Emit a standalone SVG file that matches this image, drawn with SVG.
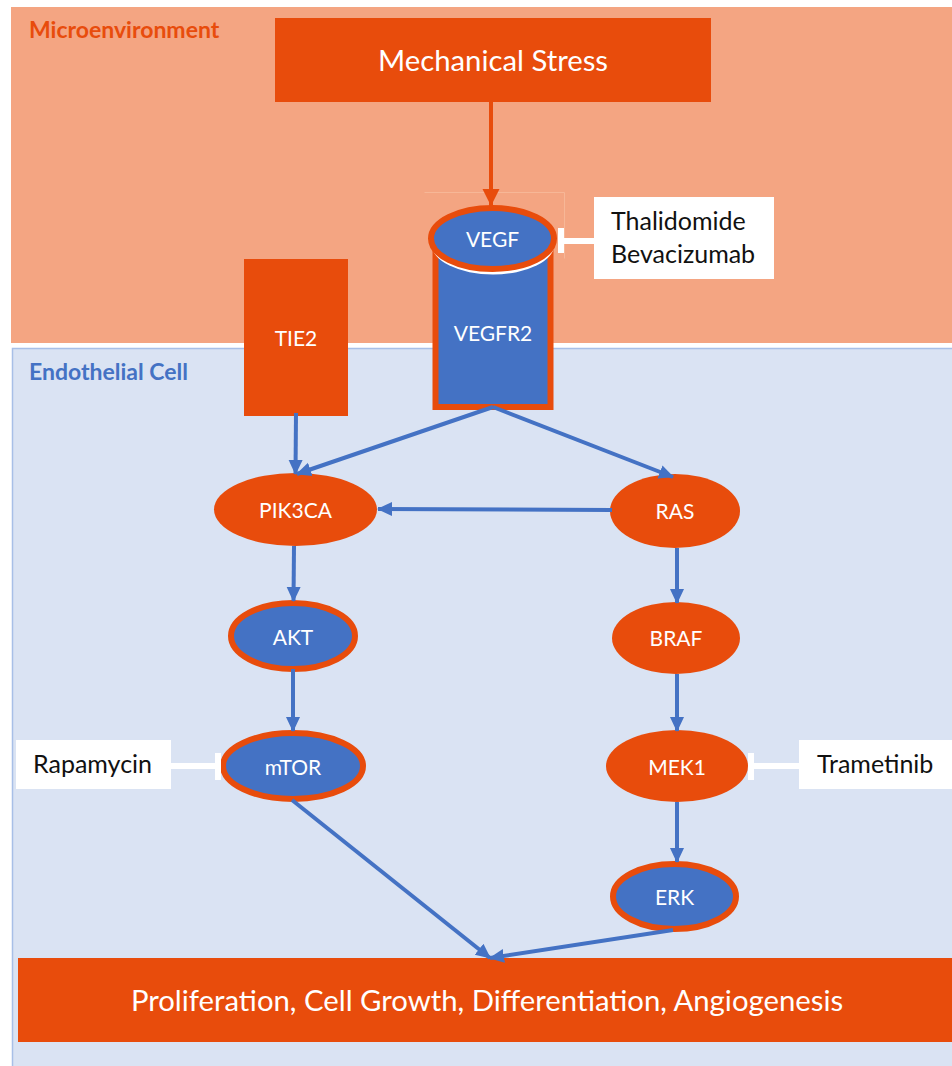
<svg xmlns="http://www.w3.org/2000/svg" width="952" height="1066" viewBox="0 0 952 1066">
  <defs>
    <style>
      .lbl { font-family: Lato, "Liberation Sans", sans-serif; fill: #ffffff; text-anchor: middle; }
      .node { font-size: 21px; }
      .big { font-size: 29.3px; }
      .drug { font-family: Lato, "Liberation Sans", sans-serif; fill: #111111; font-size: 25px; }
      .region { font-family: Lato, "Liberation Sans", sans-serif; font-weight: bold; font-size: 23px; }
      .org { fill: #E84C0C; }
      .blueNode { fill: #4472C4; stroke: #E84C0C; stroke-width: 6; }
      .conn { stroke: #4472C4; stroke-width: 4; fill: none; }
      .inhib { stroke: #ffffff; stroke-width: 6; fill: none; }
    </style>
    <marker id="arrB" markerUnits="userSpaceOnUse" markerWidth="16" markerHeight="16" viewBox="0 0 16 16" refX="14" refY="8" orient="auto">
      <path d="M0,1 L15,8 L0,15 Z" fill="#4472C4"/>
    </marker>
    <marker id="arrO" markerUnits="userSpaceOnUse" markerWidth="18" markerHeight="18" viewBox="0 0 18 18" refX="17" refY="9" orient="auto">
      <path d="M0,0.5 L17,9 L0,17.5 Z" fill="#E84C0C"/>
    </marker>
  </defs>

  <rect x="0" y="0" width="952" height="1066" fill="#ffffff"/>

  <g id="microenvironment">
    <rect x="11" y="7" width="941" height="336" fill="#F4A582"/>
    <text class="region" x="29" y="38" fill="#E84C0C">Microenvironment</text>
  </g>

  <g id="endothelial-cell">
    <rect x="12.5" y="348.5" width="945" height="730" fill="#DAE3F3" stroke="#A8BFE7" stroke-width="1.5"/>
    <text class="region" x="29" y="380" fill="#4472C4">Endothelial Cell</text>
  </g>

  <g id="mechanical-stress">
    <rect x="275" y="18" width="436" height="84" class="org"/>
    <text class="lbl big" x="493" y="71">Mechanical Stress</text>
  </g>

  <g id="tie2">
    <rect x="244" y="259" width="104" height="157" class="org"/>
    <text class="lbl node" x="296" y="346">TIE2</text>
  </g>

  <g id="vegfr2">
    <rect x="435.5" y="250" width="115" height="157" class="blueNode"/>
    <text class="lbl node" x="493" y="341">VEGFR2</text>
  </g>

  <g id="vegf">
    <path d="M424.5,192.5 H564.5 V258.5" fill="none" stroke="#F7B797" stroke-width="1"/>
    <ellipse cx="493" cy="244" rx="61.5" ry="30.5" fill="#ffffff"/>
    <ellipse cx="492.5" cy="238.5" rx="61.5" ry="30.5" class="blueNode"/>
    <text class="lbl node" x="492.5" y="247">VEGF</text>
  </g>

  <g id="thalidomide-bevacizumab">
    <rect x="594" y="197" width="180" height="82" fill="#ffffff"/>
    <text class="drug" x="611" y="230">Thalidomide</text>
    <text class="drug" x="611" y="263">Bevacizumab</text>
  </g>

  <g id="pik3ca">
    <ellipse cx="295.5" cy="509.5" rx="81.5" ry="36.5" class="org"/>
    <text class="lbl node" x="295.5" y="518">PIK3CA</text>
  </g>

  <g id="ras">
    <ellipse cx="675" cy="511" rx="65" ry="37" class="org"/>
    <text class="lbl node" x="675" y="519">RAS</text>
  </g>

  <g id="akt">
    <ellipse cx="293" cy="636" rx="62" ry="33" class="blueNode"/>
    <text class="lbl node" x="293" y="645">AKT</text>
  </g>

  <g id="braf">
    <ellipse cx="676" cy="638" rx="64" ry="36" class="org"/>
    <text class="lbl node" x="676" y="646">BRAF</text>
  </g>

  <g id="mtor">
    <ellipse cx="293" cy="766" rx="70" ry="33" class="blueNode"/>
    <text class="lbl node" x="293" y="775">mTOR</text>
  </g>

  <g id="mek1">
    <ellipse cx="677" cy="766" rx="71" ry="36" class="org"/>
    <text class="lbl node" x="677" y="775">MEK1</text>
  </g>

  <g id="erk">
    <ellipse cx="674.5" cy="896.5" rx="61.5" ry="32.5" class="blueNode"/>
    <text class="lbl node" x="674.5" y="905">ERK</text>
  </g>

  <g id="rapamycin">
    <rect x="16" y="740" width="155" height="49" fill="#ffffff"/>
    <text class="drug" x="33" y="773">Rapamycin</text>
  </g>

  <g id="trametinib">
    <rect x="799" y="740" width="160" height="49" fill="#ffffff"/>
    <text class="drug" x="817" y="773">Trametinib</text>
  </g>

  <g id="outcome">
    <rect x="18" y="958" width="940" height="84" class="org"/>
    <text class="lbl big" x="487" y="1011">Proliferation, Cell Growth, Differentiation, Angiogenesis</text>
  </g>

  <g id="connectors">
    <line x1="491" y1="102" x2="491" y2="206" stroke="#E84C0C" stroke-width="4" marker-end="url(#arrO)"/>
    <line x1="296" y1="413" x2="295.5" y2="474" class="conn" marker-end="url(#arrB)"/>
    <line x1="493" y1="407" x2="297" y2="474" class="conn" marker-end="url(#arrB)"/>
    <line x1="493" y1="407" x2="673" y2="477" class="conn" marker-end="url(#arrB)"/>
    <line x1="612" y1="510" x2="378" y2="509" class="conn" marker-end="url(#arrB)"/>
    <line x1="294" y1="546" x2="293.5" y2="601" class="conn" marker-end="url(#arrB)"/>
    <line x1="293" y1="669" x2="293" y2="731" class="conn" marker-end="url(#arrB)"/>
    <line x1="677" y1="548" x2="677" y2="603" class="conn" marker-end="url(#arrB)"/>
    <line x1="677" y1="674" x2="677" y2="731" class="conn" marker-end="url(#arrB)"/>
    <line x1="677" y1="802" x2="677" y2="862" class="conn" marker-end="url(#arrB)"/>
    <line x1="292" y1="800" x2="490" y2="958" class="conn" marker-end="url(#arrB)"/>
    <line x1="673" y1="930" x2="490" y2="958" class="conn" marker-end="url(#arrB)"/>
    <path d="M594,241 H562 M561,228 V253" class="inhib"/>
    <path d="M171,766 H219 M218,753 V780" class="inhib"/>
    <path d="M799,766 H750 M751,753 V780" class="inhib"/>
  </g>
</svg>
